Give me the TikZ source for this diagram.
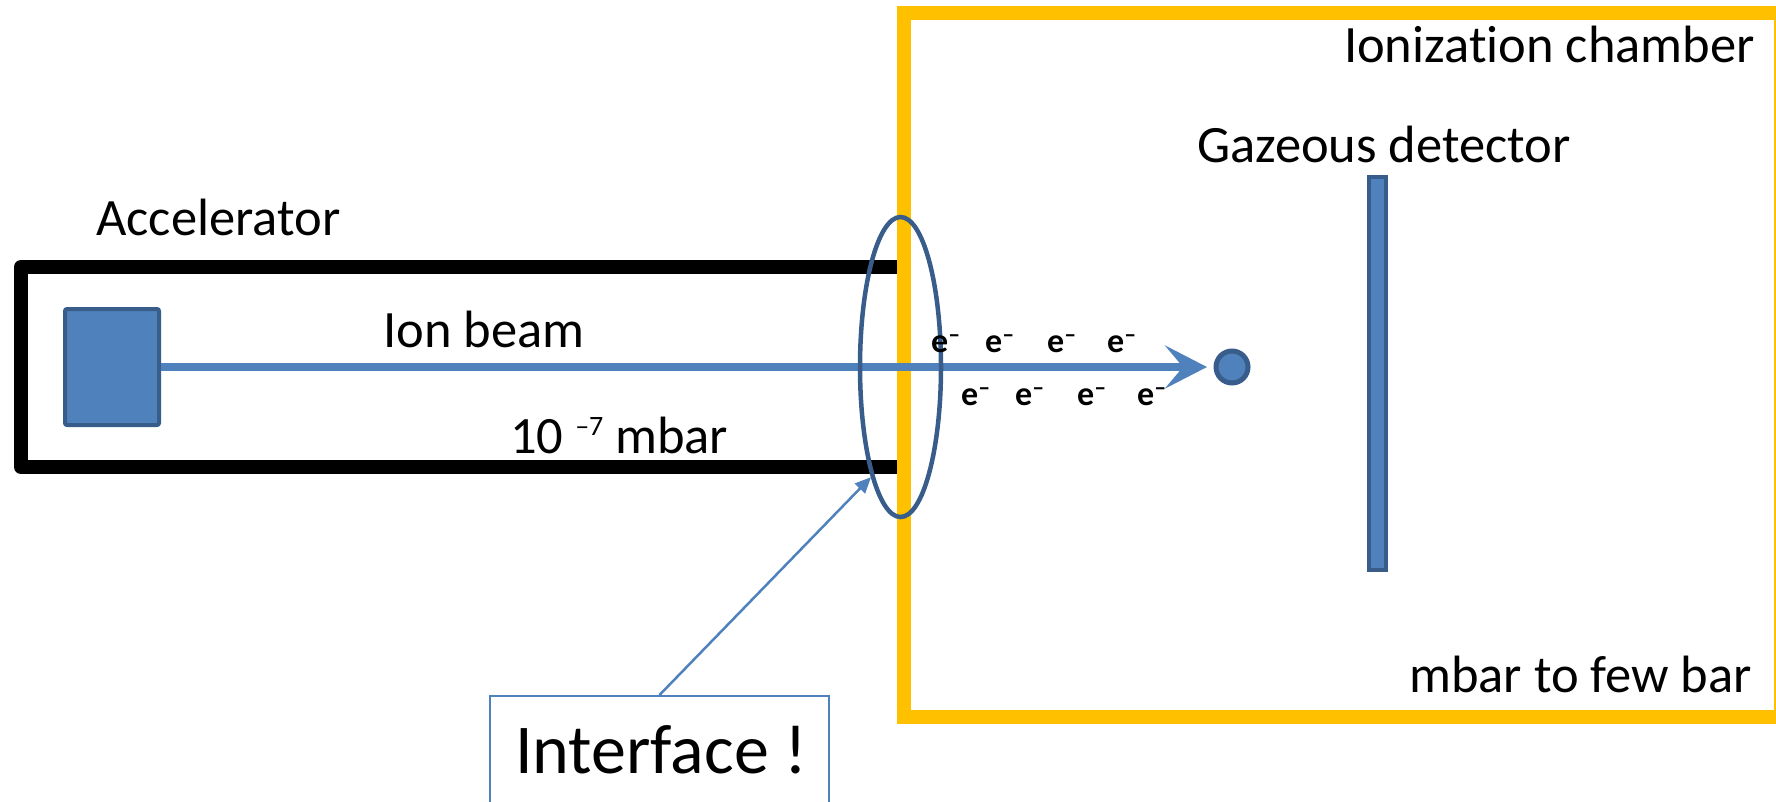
\documentclass[tikz,border=0pt]{standalone}
\usepackage{fontspec}
\setmainfont[Ligatures=NoCommon]{Carlito}
\usetikzlibrary{shapes.geometric,arrows.meta}
\definecolor{accblue}{HTML}{4F81BD}
\definecolor{accdark}{HTML}{385D8A}
\definecolor{chamber}{HTML}{FFC000}
\begin{document}
\begin{tikzpicture}[x=1pt,y=-1pt,
  lbl/.style={font=\fontsize{52.5}{60}\selectfont, inner sep=0pt},
  elec/.style={font=\fontsize{34}{40}\selectfont\bfseries, inner sep=0pt, anchor=base west},
  bluepart/.style={fill=accblue, draw=accdark, line width=4pt, inner sep=0pt}]
\useasboundingbox (0,0) rectangle (1776,801);
% accelerator tube
\draw[line width=14pt, line join=round] (897,267) -- (21,267) -- (21,467) -- (897,467);
% ionization chamber
\draw[chamber, line width=14pt] (904,13) rectangle (1781,717);
% source, target, detector
\node[bluepart, minimum width=94pt, minimum height=116pt, rounded corners=2pt] (src) at (112,367) {};
\node[bluepart, circle, line width=5pt, minimum size=32pt] (tgt) at (1232,367) {};
\node[bluepart, minimum width=17pt, minimum height=393pt] (det) at (1377.5,373.5) {};
% ion beam
\draw[accblue, line width=8pt, -{Stealth[length=42pt,width=43pt,inset=18pt]}, shorten >=6.5pt] (src.east) -- (tgt.west);
% interface ellipse
\node[ellipse, draw=accdark, line width=4.5pt, minimum width=81pt, minimum height=300pt, inner sep=0pt] (ell) at (900.5,367) {};
% electrons
\node[elec] (e1) at (931,352) {e\textsuperscript{–}};
\node[elec] (e2) at (985,352) {e\textsuperscript{–}};
\node[elec] (e3) at (1047,352) {e\textsuperscript{–}};
\node[elec] (e4) at (1107,352) {e\textsuperscript{–}};
\node[elec] (e5) at (961,405) {e\textsuperscript{–}};
\node[elec] (e6) at (1015,405) {e\textsuperscript{–}};
\node[elec] (e7) at (1077,405) {e\textsuperscript{–}};
\node[elec] (e8) at (1137,405) {e\textsuperscript{–}};
% labels
\node[lbl, anchor=base west] (acc) at (96,235) {Accelerator};
\node[lbl, anchor=base west] (beam) at (383,347) {Ion beam};
\node[lbl, anchor=base west] (vac) at (510,453) {10 \raisebox{18pt}{\fontsize{28}{28}\selectfont –7} mbar};
\node[lbl, anchor=base west] (gd) at (1197,162) {Gazeous detector};
\node[lbl, anchor=base east] (ic) at (1755,62) {Ionization chamber};
\node[lbl, anchor=base east] (pr) at (1752,692) {mbar to few bar};
% interface callout
\node[draw=accblue, line width=2pt, minimum width=339pt, minimum height=140pt, inner sep=0pt] (ibox) at (659.5,766) {};
\node[font=\fontsize{70}{80}\selectfont, anchor=base west, inner sep=0pt] (itxt) at (515,773) {Interface !};
\draw[accblue, line width=2.5pt, -{Triangle[length=16pt,width=14pt]}] (ibox.north) -- (ell.255);
\end{tikzpicture}
\end{document}
